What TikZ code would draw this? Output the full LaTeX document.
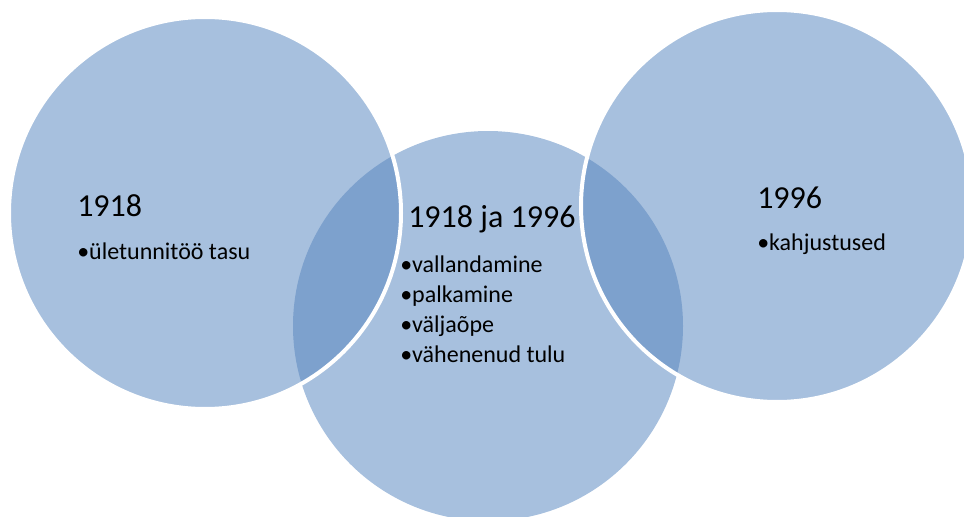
\documentclass[tikz,border=0pt]{standalone}
\usepackage{fontspec}
\setmainfont{Carlito}
\definecolor{vennlight}{RGB}{167,192,222}
\definecolor{venndark}{RGB}{125,161,205}
\tikzset{
  yearlabel/.style={anchor=base west, inner sep=0pt, font=\fontsize{24}{28}\selectfont},
  itemlabel/.style={anchor=base west, inner sep=0pt, font=\fontsize{18}{22}\selectfont},
  rim/.style={white, line width=3pt}
}
\begin{document}
\begin{tikzpicture}[x=0.75pt,y=-0.75pt]
        \useasboundingbox (0,0) rectangle (964,517);
        \clip (0,0) rectangle (964,517);
        % the three circles
        \fill[vennlight] (205,213) circle [radius=196];
        \fill[vennlight] (488,326) circle [radius=195];
        \fill[vennlight] (777,206) circle [radius=196];
        % overlaps
        \begin{scope}
          \clip (205,213) circle [radius=196];
          \fill[venndark] (488,326) circle [radius=195];
        \end{scope}
        \begin{scope}
          \clip (777,206) circle [radius=196];
          \fill[venndark] (488,326) circle [radius=195];
        \end{scope}
        \draw[rim] (205,213) circle [radius=196];
        \draw[rim] (777,206) circle [radius=196];
        % texts
        \node[yearlabel] (left) at (77,216) {1918};
        \node[itemlabel] (lefta) at (77,259) {•ületunnitöö tasu};
        \node[yearlabel] (mid) at (408,227) {1918 ja 1996};
        \node[itemlabel] (mida) at (400,272) {•vallandamine};
        \node[itemlabel] (midb) at (400,302) {•palkamine};
        \node[itemlabel] (midc) at (400,332) {•väljaõpe};
        \node[itemlabel] (midd) at (400,362) {•vähenenud tulu};
        \node[yearlabel] (right) at (757,208) {1996};
        \node[itemlabel] (righta) at (757,250) {•kahjustused};
      \end{tikzpicture}
\end{document}
